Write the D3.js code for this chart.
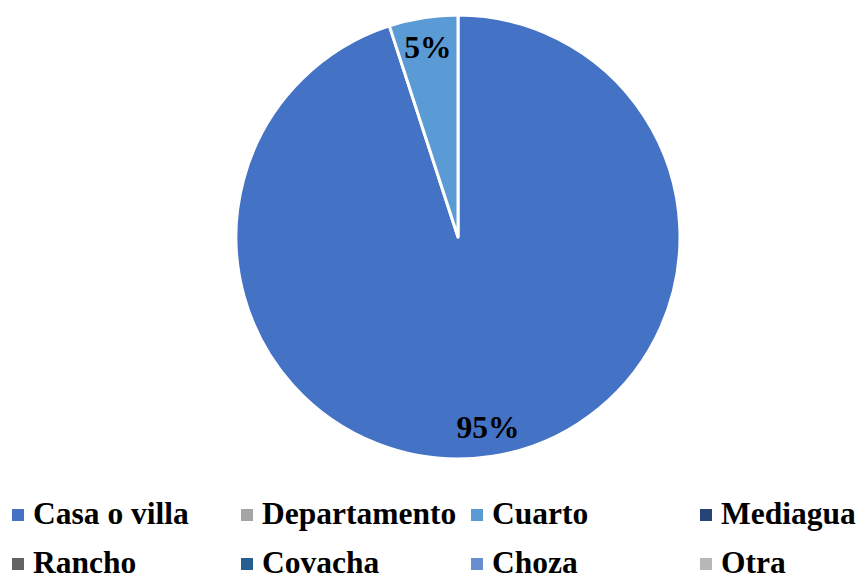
<!DOCTYPE html>
<html>
<head>
<meta charset="utf-8">
<script src="https://cdn.jsdelivr.net/npm/d3@7"></script>
<style>
body { margin: 0; background: #fff; }
text { font-family: "Liberation Serif", "Times New Roman", serif; font-weight: bold; }
</style>
</head>
<body>
<svg width="861" height="580"></svg>
<script>
// tipo de vivienda
var categories = ["Casa o villa", "Departamento", "Cuarto", "Mediagua", "Rancho", "Covacha", "Choza", "Otra"];
var percents = [95, 0, 5, 0, 0, 0, 0, 0];
var colors = ["#4472C4", "#A5A5A5", "#5B9BD5", "#264478", "#636363", "#255E91", "#698ED0", "#B7B7B7"];

var data = categories.map(function (c, i) { return { name: c, percent: percents[i] }; });

var svg = d3.select("svg"),
    cx = 458,
    cy = 237,
    radius = 222;

var g = svg.append("g")
    .attr("transform", "translate(" + cx + "," + cy + ")");

var color = d3.scaleOrdinal().domain(categories).range(colors);

var pie = d3.pie().sort(null).value(function (d) { return d.percent; });

var path = d3.arc()
    .outerRadius(radius)
    .innerRadius(0);

var label = d3.arc()
    .outerRadius(192)
    .innerRadius(192);

var arcs = pie(data);

g.selectAll(".arc")
    .data(arcs.filter(function (d) { return d.data.percent > 0; }))
    .enter().append("path")
    .attr("class", "arc")
    .attr("d", path)
    .attr("fill", function (d) { return color(d.data.name); })
    .attr("stroke", "#fff")
    .attr("stroke-width", 3)
    .attr("stroke-linejoin", "round");

g.selectAll(".lbl")
    .data(arcs.filter(function (d) { return d.data.percent > 0; }))
    .enter().append("text")
    .attr("class", "lbl")
    .attr("transform", function (d) { return "translate(" + label.centroid(d) + ")"; })
    .attr("text-anchor", "middle")
    .attr("dy", "0.35em")
    .style("font-size", "31.5px")
    .attr("fill", "#000")
    .text(function (d) { return d.data.percent + "%"; });

// leyenda
var colX = d3.scaleOrdinal().domain([0, 1, 2, 3]).range([12, 241, 471, 700]);
var rowY = d3.scaleOrdinal().domain([0, 1]).range([515, 564]);

var legend = svg.selectAll(".legend")
    .data(categories)
    .enter().append("g")
    .attr("class", "legend")
    .attr("transform", function (d, i) {
        return "translate(" + colX(i % 4) + "," + rowY(Math.floor(i / 4)) + ")";
    });

legend.append("rect")
    .attr("x", 0)
    .attr("y", -6)
    .attr("width", 12)
    .attr("height", 12)
    .attr("fill", function (d) { return color(d); });

legend.append("text")
    .attr("x", 21)
    .attr("y", 9)
    .style("font-size", "31.5px")
    .attr("fill", "#000")
    .text(function (d) { return d; });
</script>
</body>
</html>
